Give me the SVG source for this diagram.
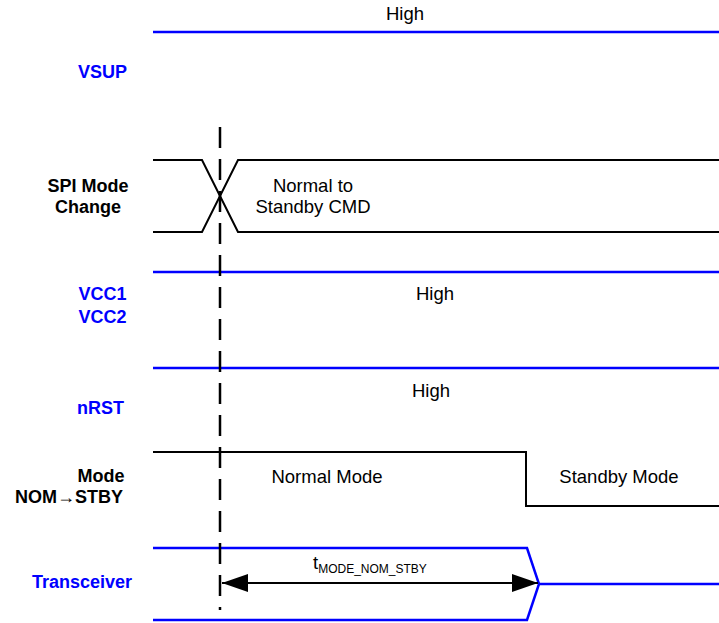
<svg xmlns="http://www.w3.org/2000/svg" width="719" height="623" viewBox="0 0 719 623">
<style>
text{font-family:"Liberation Sans",Arial,sans-serif;font-size:18.5px;fill:#000}
.lbl{font-weight:bold;text-anchor:middle;font-size:18px}
.blue{fill:#0000FF}
.c{text-anchor:middle}
.sig{fill:none;stroke:#000;stroke-width:2}
.bsig{fill:none;stroke:#0000FF;stroke-width:2.5}
</style>
<defs>
<marker id="ah" viewBox="0 0 26 18" refX="26" refY="9" markerWidth="26" markerHeight="18" markerUnits="userSpaceOnUse" orient="auto-start-reverse">
<path d="M0 0 L26 9 L0 18 Z" fill="#000"/>
</marker>
</defs>
<rect width="719" height="623" fill="#fff"/>
<g id="vsup">
<text class="lbl blue" x="102.5" y="78">VSUP</text>
<path class="bsig" d="M153 32 H719"/>
<text class="c" x="405" y="20">High</text>
</g>
<g id="spi">
<text class="lbl" x="88" y="192">SPI Mode</text>
<text class="lbl" x="88" y="213">Change</text>
<path class="sig" d="M153 160 H202 L238 232 H719"/>
<path class="sig" d="M153 232 H202 L238 160 H719"/>
<text class="c" x="313" y="192">Normal to</text>
<text class="c" x="313" y="213">Standby CMD</text>
</g>
<g id="vcc">
<text class="lbl blue" x="102.5" y="300">VCC1</text>
<text class="lbl blue" x="102.5" y="323">VCC2</text>
<path class="bsig" d="M153 272 H719"/>
<text class="c" x="435" y="300">High</text>
</g>
<g id="nrst">
<text class="lbl blue" x="100.5" y="414">nRST</text>
<path class="bsig" d="M153 368 H719"/>
<text class="c" x="431" y="397">High</text>
</g>
<g id="mode">
<text class="lbl" x="101" y="482">Mode</text>
<text class="lbl" x="69" y="503">NOM→STBY</text>
<path class="sig" d="M153 452 H526 V506 H719"/>
<text class="c" x="327" y="483">Normal Mode</text>
<text class="c" x="619" y="483">Standby Mode</text>
</g>
<g id="transceiver">
<text class="lbl blue" x="82" y="588">Transceiver</text>
<path class="bsig" d="M153 548 H527 L539 584 L527 620 H153"/>
<path class="bsig" d="M539 584 H719"/>
</g>
<g id="connectors">
<path d="M220 127 V610" fill="none" stroke="#000" stroke-width="2.5" stroke-dasharray="21 11"/>
<path d="M222 583 H538" fill="none" stroke="#000" stroke-width="2" marker-start="url(#ah)" marker-end="url(#ah)"/>
<text x="313" y="569">t<tspan font-size="12" dy="4">MODE_NOM_STBY</tspan></text>
</g>
</svg>
